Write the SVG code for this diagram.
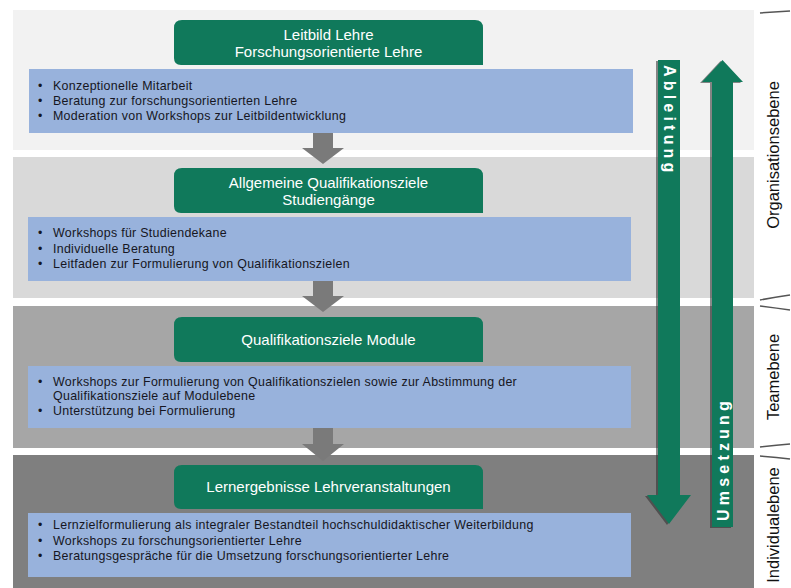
<svg xmlns="http://www.w3.org/2000/svg" width="791" height="588" viewBox="0 0 791 588">
<style>
.band{stroke:none}
.hdr{fill:#10795b}
.hdrt{font-family:"Liberation Sans",Arial,sans-serif;font-size:15px;fill:#ffffff;text-anchor:middle}
.box{fill:#98b2dc}
.bt{font-family:"Liberation Sans",Arial,sans-serif;font-size:12.4px;fill:#161622;letter-spacing:0.3px}
.garrow{fill:#7a7a7a}
.green{fill:#10795b}
.shadow{fill:#2a2a2a;opacity:0.55}
.vt{font-family:"Liberation Sans",Arial,sans-serif;font-size:16px;font-weight:bold;fill:#ffffff;letter-spacing:4.2px}
.lvl{font-family:"Liberation Sans",Arial,sans-serif;font-size:16.5px;fill:#111111;text-anchor:middle}
.brace{fill:none;stroke:#555555;stroke-width:1.5}
</style>
<rect width="791" height="588" fill="#ffffff"/>
<g id="bands">
<rect class="band" x="13" y="10" width="741" height="140" fill="#f2f2f2"/>
<rect class="band" x="13" y="157" width="741" height="141" fill="#d9d9d9"/>
<rect class="band" x="13" y="306" width="741" height="142" fill="#a6a6a6"/>
<rect class="band" x="13" y="455" width="741" height="133" fill="#7f7f7f"/>
</g>
<g id="connectors">
<path class="garrow" d="M313,133 H333 V148 H344 L323,164 L302,148 H313 Z"/>
<path class="garrow" d="M313,281 H333 V296 H344 L323,312 L302,296 H313 Z"/>
<path class="garrow" d="M313,428 H333 V444 H344 L323,461 L302,444 H313 Z"/>
</g>
<g id="node-leitbild">
<path class="hdr" d="M182,20 H475 Q483,20 483,28 V65 H181 Q174,65 174,58 V28 Q174,20 182,20 Z"/>
<text class="hdrt" x="328.5" y="40">Leitbild Lehre</text>
<text class="hdrt" x="328.5" y="57">Forschungsorientierte Lehre</text>
</g>
<g id="box-leitbild">
<rect class="box" x="29" y="69" width="604" height="64"/>
<text class="bt" x="38" y="89.5">•</text><text class="bt" x="53" y="89.5">Konzeptionelle Mitarbeit</text>
<text class="bt" x="38" y="104.5">•</text><text class="bt" x="53" y="104.5">Beratung zur forschungsorientierten  Lehre</text>
<text class="bt" x="38" y="119.5">•</text><text class="bt" x="53" y="119.5">Moderation von Workshops zur Leitbildentwicklung</text>
</g>
<g id="node-allgemeine">
<path class="hdr" d="M182,168 H475 Q483,168 483,176 V213 H181 Q174,213 174,206 V176 Q174,168 182,168 Z"/>
<text class="hdrt" x="328.5" y="188">Allgemeine Qualifikationsziele</text>
<text class="hdrt" x="328.5" y="205">Studiengänge</text>
</g>
<g id="box-allgemeine">
<rect class="box" x="28" y="217" width="603" height="64"/>
<text class="bt" x="38" y="237">•</text><text class="bt" x="53" y="237">Workshops für Studiendekane</text>
<text class="bt" x="38" y="253">•</text><text class="bt" x="53" y="253">Individuelle  Beratung</text>
<text class="bt" x="38" y="268">•</text><text class="bt" x="53" y="268">Leitfaden zur Formulierung von Qualifikationszielen</text>
</g>
<g id="node-module">
<path class="hdr" d="M182,317 H475 Q483,317 483,325 V362 H181 Q174,362 174,355 V325 Q174,317 182,317 Z"/>
<text class="hdrt" x="328.5" y="345">Qualifikationsziele Module</text>
</g>
<g id="box-module">
<rect class="box" x="28" y="366" width="603" height="62"/>
<text class="bt" x="38" y="386">•</text><text class="bt" x="53" y="386">Workshops zur Formulierung von Qualifikationszielen sowie zur Abstimmung der</text>
<text class="bt" x="53" y="400">Qualifikationsziele auf Modulebene</text>
<text class="bt" x="38" y="415">•</text><text class="bt" x="53" y="415">Unterstützung  bei Formulierung</text>
</g>
<g id="node-lernergebnisse">
<path class="hdr" d="M182,465 H475 Q483,465 483,473 V509 H181 Q174,509 174,502 V473 Q174,465 182,465 Z"/>
<text class="hdrt" x="328.5" y="492">Lernergebnisse Lehrveranstaltungen</text>
</g>
<g id="box-lernergebnisse">
<rect class="box" x="28" y="513" width="603" height="64"/>
<text class="bt" x="38" y="529">•</text><text class="bt" x="53" y="529">Lernzielformulierung  als integraler Bestandteil hochschuldidaktischer Weiterbildung</text>
<text class="bt" x="38" y="544.5">•</text><text class="bt" x="53" y="544.5">Workshops zu forschungsorientierter  Lehre</text>
<text class="bt" x="38" y="560">•</text><text class="bt" x="53" y="560">Beratungsgespräche für die Umsetzung  forschungsorientierter  Lehre</text>
</g>
<g id="ableitung">
<path class="shadow" d="M656,61 H678 V496 H689 L667,525 L645,496 H656 Z"/>
<path class="green" d="M658,60 H680 V495 H691 L669,524 L647,495 H658 Z"/>
<text class="vt" transform="translate(663.5,65) rotate(90)">Ableitung</text>
</g>
<g id="umsetzung">
<path class="shadow" d="M720.5,61 L741,83 H731 V528 H710 V83 H700 Z"/>
<path class="green" d="M722.5,60 L743,82 H733 V527 H712 V82 H702 Z"/>
<text class="vt" transform="translate(728.5,521) rotate(-90)">Umsetzung</text>
</g>
<g id="levels">
<path class="brace" d="M760,13 Q776,12 790,11"/>
<path class="brace" d="M760,300 Q776,297 790,295"/>
<path class="brace" d="M760,306 Q776,308 790,310"/>
<path class="brace" d="M760,447 Q776,445 790,444"/>
<path class="brace" d="M760,456 Q776,457 790,459"/>
<text class="lvl" transform="translate(779,155) rotate(-90)">Organisationsebene</text>
<text class="lvl" transform="translate(779,377) rotate(-90)">Teamebene</text>
<text class="lvl" transform="translate(779,525) rotate(-90)">Individualebene</text>
</g>
</svg>
